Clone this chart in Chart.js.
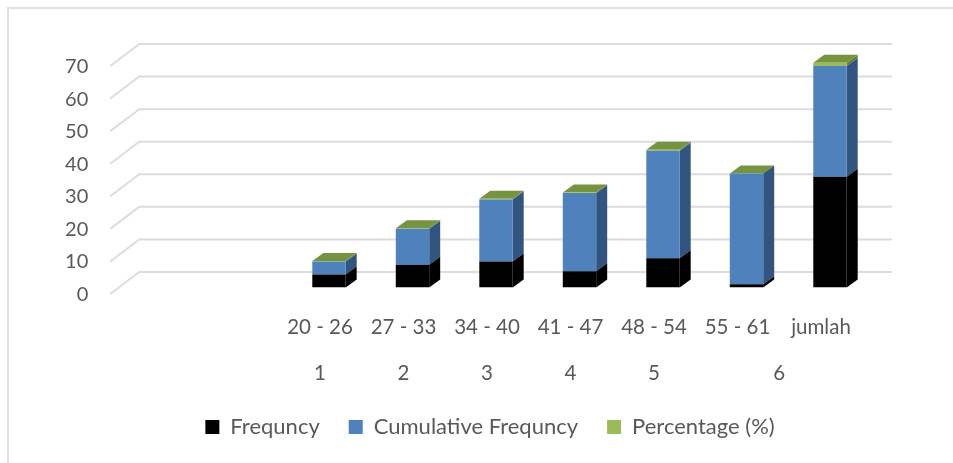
<!DOCTYPE html>
<html>
<head>
<meta charset="utf-8">
<style>
  html, body { margin: 0; padding: 0; background: #fff; overflow: hidden; }
  #wrap { position: relative; width: 953px; height: 463px; }
  #frame { position: absolute; left: 7px; top: 7px; width: 960px; height: 470px; border: 2px solid #e0e0e0; box-sizing: border-box; }
  canvas { position: absolute; left: 0; top: 0; }
</style>
<script src="https://cdn.jsdelivr.net/npm/chart.js@4/dist/chart.umd.min.js"></script>
</head>
<body>
<div id="wrap">
  <div id="frame"></div>
  <canvas id="grafica" width="953" height="463"></canvas>
</div>
<script>
// Datos (las dos primeras categorias van vacias en el original)
const categories = ['', '', '20 - 26', '27 - 33', '34 - 40', '41 - 47', '48 - 54', '55 - 61', 'jumlah'];
const frequency = [null, null, 4, 7, 8, 5, 9, 1, 34];
const cumulative = [null, null, 4, 11, 19, 24, 33, 34, 34];
const percentage = [null, null, 0.12, 0.21, 0.24, 0.15, 0.26, 0.03, 1];
const groupLabels = ['1', '2', '3', '4', '5', '6'];
const groupPositions = [2, 3, 4, 5, 6, 7.5];

const textColor = '#595959';
const gridColor = '#dcdcdc';
const tickFont = { family: 'Lato', size: 20.5 };
const legendFont = { family: 'Lato', size: 22 };

// Profundidad del falso 3D
const floorFront = { dx: -10, dy: 6.5 };
const floorBack = { dx: 19, dy: -15.5 };
const barDepth = { dx: 11, dy: -8 };
const gridRight = 892;

function poly(ctx, pts, color) {
    ctx.fillStyle = color;
    ctx.beginPath();
    pts.forEach((p, i) => i ? ctx.lineTo(p[0], p[1]) : ctx.moveTo(p[0], p[1]));
    ctx.closePath();
    ctx.fill();
}

//---------------------Rejilla en perspectiva-----------------------
const gridPlugin = {
    id: 'gridPlugin',
    beforeDatasetsDraw(chart) {
        const { ctx, chartArea, scales } = chart;
        ctx.save();
        ctx.strokeStyle = gridColor;
        ctx.lineWidth = 2;
        scales.y.ticks.forEach(t => {
            const y = scales.y.getPixelForValue(t.value);
            ctx.beginPath();
            ctx.moveTo(chartArea.left + floorFront.dx, y + floorFront.dy);
            ctx.lineTo(chartArea.left + floorBack.dx, y + floorBack.dy);
            ctx.lineTo(gridRight, y + floorBack.dy);
            ctx.stroke();
        });
        ctx.restore();
    }
};

//---------------------Caras laterales y superior de las barras-----------------------
const sidesPlugin = {
    id: 'sidesPlugin',
    beforeDatasetDraw(chart, args) {
        const { ctx } = chart;
        const ds = chart.data.datasets[args.index];
        const last = chart.data.datasets.length - 1;
        args.meta.data.forEach((bar, i) => {
            if (ds.data[i] === null) return;
            const { x, y, base, width } = bar;
            const r = x + width / 2;
            const l = x - width / 2;
            poly(ctx, [[r, y], [r + barDepth.dx, y + barDepth.dy], [r + barDepth.dx, base + barDepth.dy], [r, base]], ds.sideColor);
            if (args.index === last) {
                poly(ctx, [[l, y], [l + barDepth.dx, y + barDepth.dy], [r + barDepth.dx, y + barDepth.dy], [r, y]], '#769440');
            }
        });
    }
};

const ctx = document.getElementById('grafica').getContext('2d');
ctx.textRendering = 'optimizeSpeed'; // sin ligaduras en el texto

new Chart(ctx, {
    type: 'bar',
    data: {
        labels: categories,
        datasets: [
            { label: 'Frequncy', data: frequency, backgroundColor: '#000000', sideColor: '#000000' },
            { label: 'Cumulative Frequncy', data: cumulative, backgroundColor: '#4f81bd', sideColor: '#32557f' },
            { label: 'Percentage (%)', data: percentage, backgroundColor: '#9bbb59', sideColor: '#66803a' }
        ]
    },
    options: {
        responsive: false,
        animation: false,
        barPercentage: 0.4,
        categoryPercentage: 1,
        layout: { padding: { left: 27, right: 0, top: 59.5, bottom: 15 } },
        scales: {
            x: {
                stacked: true,
                position: 'bottom',
                grid: { display: false },
                border: { display: false },
                ticks: { color: textColor, font: tickFont, autoSkip: false, maxRotation: 0, minRotation: 0, labelOffset: -9, padding: 20 },
                afterFit(axis) { axis.height = 60; }
            },
            x2: {
                type: 'linear',
                position: 'bottom',
                offset: false,
                min: -0.5,
                max: 8.5,
                grid: { display: false },
                border: { display: false },
                afterBuildTicks(axis) { axis.ticks = groupPositions.map(v => ({ value: v })); },
                ticks: {
                    color: textColor, font: tickFont, autoSkip: false, maxRotation: 0, minRotation: 0, labelOffset: -9, padding: 5.5,
                    callback: (v) => groupLabels[groupPositions.indexOf(v)]
                },
                afterFit(axis) { axis.height = 39.5; }
            },
            y: {
                stacked: true,
                min: 0,
                max: 70,
                grid: { display: false },
                border: { display: false },
                afterFit(axis) { axis.width = 93.25; },
                ticks: { color: textColor, font: { family: 'Lato', size: 20 }, stepSize: 10, labelOffset: 7, padding: 24 }
            },
            // eje vacio: solo reserva el margen derecho
            yRight: {
                position: 'right',
                grid: { display: false },
                border: { display: false },
                ticks: { display: false },
                afterFit(axis) { axis.width = 81.25; }
            }
        },
        plugins: {
            tooltip: { enabled: false },
            legend: {
                position: 'bottom',
                labels: { color: textColor, font: legendFont, boxWidth: 14, boxHeight: 14, padding: 29 }
            }
        }
    },
    plugins: [gridPlugin, sidesPlugin]
});
</script>
</body>
</html>
